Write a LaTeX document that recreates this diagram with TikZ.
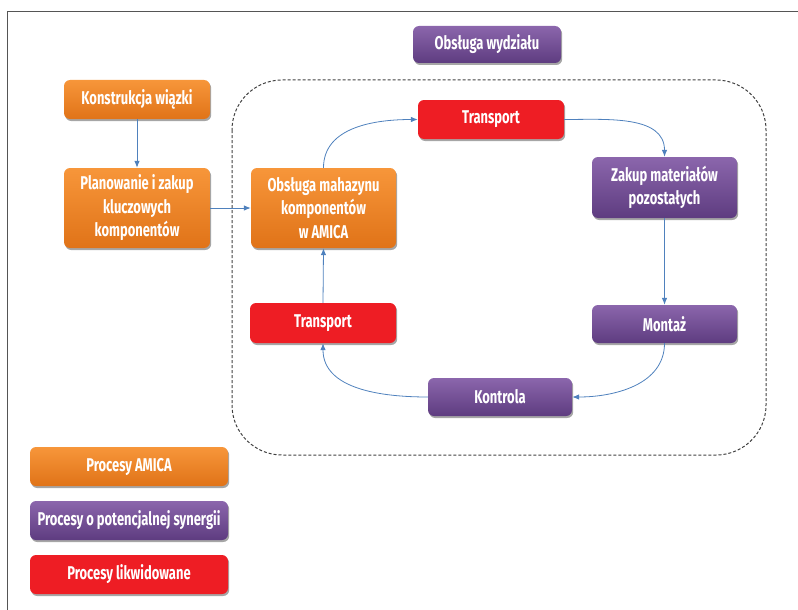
\documentclass[tikz,border=0pt]{standalone}
\usepackage{fontspec}
\setmainfont{Fira Sans}[FakeStretch=0.7]
\usetikzlibrary{arrows.meta,shadows,calc}
\definecolor{orTop}{HTML}{F7963A}
\definecolor{orBot}{HTML}{E07318}
\definecolor{puTop}{HTML}{8B66AC}
\definecolor{puBot}{HTML}{5E3C80}
\definecolor{redBox}{HTML}{EE1D24}
\definecolor{arrowBlue}{HTML}{4F81BD}
\definecolor{frameGray}{HTML}{555555}
\tikzset{
  procbox/.style={rounded corners=6pt, text=white, align=center,
    font=\bfseries\fontsize{18.5}{23.5}\selectfont, inner sep=2pt,
    drop shadow={shadow xshift=1.2pt, shadow yshift=-2pt, opacity=0.35, fill=black}},
  orangebox/.style={procbox, top color=orTop, bottom color=orBot, draw=none},
  purplebox/.style={procbox, top color=puTop, bottom color=puBot, draw=none},
  redbox/.style={procbox, fill=redBox, draw=none, drop shadow={shadow xshift=0pt, shadow yshift=0pt, opacity=0}},
  flow/.style={draw=arrowBlue, line width=0.8pt, -{Latex[length=7pt,width=5.5pt]}},
}
\begin{document}
\begin{tikzpicture}[x=1pt,y=-1pt]
\useasboundingbox (0,0) rectangle (798,610);
% outer frame (partial)
\draw[frameGray, line width=1pt] (7,610) -- (7,12) -- (798,12);
% dashed region
\draw[black!75, line width=1pt, dash pattern=on 3pt off 2pt, rounded corners=50pt]
  (232,80) rectangle (766,455);
% nodes
\node[purplebox, minimum width=148pt, minimum height=37pt] (wyd) at (487,44.5) {Obsługa wydziału};
\node[orangebox, minimum width=146pt, minimum height=39pt] (kons) at (137,99.5) {Konstrukcja wiązki};
\node[orangebox, minimum width=146pt, minimum height=80pt] (plan) at (137,208) {Planowanie i zakup\\kluczowych\\komponentów};
\node[orangebox, minimum width=145pt, minimum height=80pt] (obs) at (323.5,208) {Obsługa mahazynu\\komponentów\\w AMICA};
\node[redbox, minimum width=146pt, minimum height=39pt] (tra) at (491,119.5) {Transport};
\node[purplebox, minimum width=145pt, minimum height=61pt] (zak) at (664.5,187.5) {Zakup materiałów\\pozostałych};
\node[purplebox, minimum width=145pt, minimum height=38pt] (mon) at (664.5,324) {Montaż};
\node[purplebox, minimum width=144pt, minimum height=38pt] (kon) at (500,397) {Kontrola};
\node[redbox, minimum width=146pt, minimum height=40pt] (trb) at (323,323) {Transport};
% legend
\node[orangebox, minimum width=198pt, minimum height=39pt] (l1) at (129,466.5) {Procesy AMICA};
\node[purplebox, minimum width=198pt, minimum height=39pt] (l2) at (129,520.5) {Procesy o potencjalnej synergii};
\node[redbox, minimum width=198pt, minimum height=39pt] (l3) at (129,574.5) {Procesy likwidowane};
% connectors
\draw[flow] (kons.south) -- (plan.north);
\draw[flow] (plan.east) -- (obs.west);
\draw[flow] (obs.north) to[out=90,in=180] (tra.west);
\draw[flow] (tra.east) to[out=0,in=90] (zak.north);
\draw[flow] (zak.south) -- (mon.north);
\draw[flow] (mon.south) to[out=-90,in=0] (kon.east);
\draw[flow] (kon.west) to[out=180,in=-90] (trb.south);
\draw[flow] (trb.north) -- (obs.south);
\end{tikzpicture}
\end{document}
